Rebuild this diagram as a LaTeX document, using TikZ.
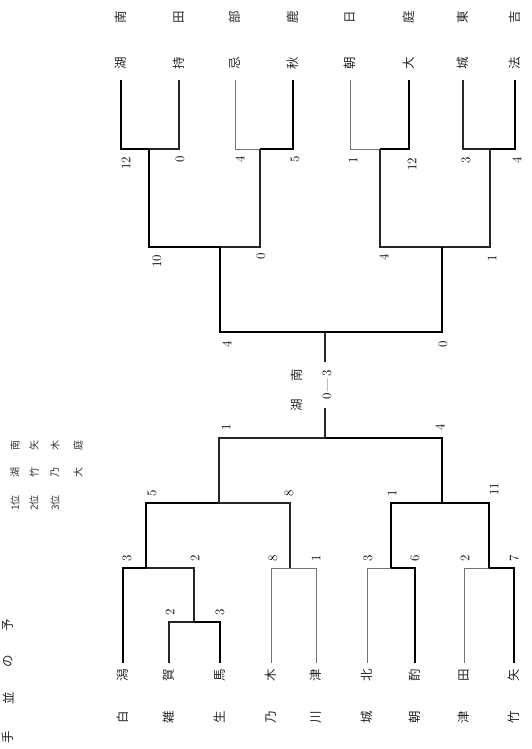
\documentclass[tikz,border=0pt]{standalone}
\usepackage{fontspec}
\newfontfamily\jp{Noto Sans CJK JP}
\begin{document}
\begin{tikzpicture}[x=1pt,y=-1pt,line join=miter,
  wl/.style={line width=1.8pt, black},
  ml/.style={line width=1.1pt, black!85},
  tl/.style={line width=0.8pt, black!55},
  nm/.style={rotate=90, font=\jp\fontsize{12.5}{12.5}\selectfont, text=black!85, inner sep=0pt},
  rk/.style={rotate=90, font=\jp\fontsize{10}{10}\selectfont, text=black!80, inner sep=0pt},
  sc/.style={rotate=90, font=\fontsize{13}{13}\selectfont, inner sep=0pt}]
\useasboundingbox (0,0) rectangle (531,749);

% ---------- top half ----------
\foreach \i/\x in {1/121,2/179,3/235,4/293,5/350,6/409,7/463,8/515}{\coordinate (t\i) at (\x,80);}
\coordinate (p1) at (149,149);
\coordinate (p2) at (260,149);
\coordinate (p3) at (380,149);
\coordinate (p4) at (490,149);
\coordinate (q1) at (220,247);
\coordinate (q2) at (442,247);
\coordinate (r) at (325,332);
\coordinate (s) at (325,438);

\draw[wl] (t1) |- (p1);
\draw[ml] (t2) |- (p1);
\draw[tl] (t3) |- (p2);
\draw[wl] (t4) |- (p2);
\draw[tl] (t5) |- (p3);
\draw[wl] (t6) |- (p3);
\draw[ml] (t7) |- (p4);
\draw[wl] (t8) |- (p4);
\draw[wl] (p1) |- (q1);
\draw[ml] (p2) |- (q1);
\draw[ml] (p3) |- (q2);
\draw[ml] (p4) |- (q2);
\draw[wl] (q1) |- (r);
\draw[wl] (q2) |- (r);
\draw[ml] (r) -- (s);

% top names
\node[nm] (ta1) at (121,17) {南}; \node[nm] (tb1) at (121,63) {湖};
\node[nm] (ta2) at (179,17) {田}; \node[nm] (tb2) at (179,63) {持};
\node[nm] (ta3) at (235,17) {部}; \node[nm] (tb3) at (235,63) {忌};
\node[nm] (ta4) at (293,17) {鹿}; \node[nm] (tb4) at (293,63) {秋};
\node[nm] (ta5) at (350,17) {日}; \node[nm] (tb5) at (350,63) {朝};
\node[nm] (ta6) at (409,17) {庭}; \node[nm] (tb6) at (409,63) {大};
\node[nm] (ta7) at (463,17) {東}; \node[nm] (tb7) at (463,63) {城};
\node[nm] (ta8) at (515,17) {吉}; \node[nm] (tb8) at (515,63) {法};

% top scores
\node[sc] (s1) at (126,163) {12};
\node[sc] (s2) at (180,159) {0};
\node[sc] (s3) at (240,159) {4};
\node[sc] (s4) at (295,159) {5};
\node[sc] (s5) at (353,160) {1};
\node[sc] (s6) at (412,164) {12};
\node[sc] (s7) at (466,160) {3};
\node[sc] (s8) at (517,160) {4};
\node[sc] (s9) at (157,261) {10};
\node[sc] (s10) at (261,256) {0};
\node[sc] (s11) at (384,257) {4};
\node[sc] (s12) at (492,258) {1};
\node[sc] (s13) at (227,344) {4};
\node[sc] (s14) at (443,344) {0};

% final
\node[sc, fill=white, inner xsep=8pt, inner ysep=1pt] (fin) at (327,385) {0\,---\,3};
\node[nm] (fa) at (297,375) {南};
\node[nm] (fb) at (297,405) {湖};

% ---------- bottom half ----------
\foreach \i/\x in {1/123,2/169,3/220,4/271,5/316,6/367,7/415,8/464,9/514}{\coordinate (l\i) at (\x,663);}
\coordinate (c) at (194,622);
\coordinate (b1) at (146,568);
\coordinate (b2) at (290,568);
\coordinate (b3) at (391,568);
\coordinate (b4) at (489,568);
\coordinate (a1) at (219,503);
\coordinate (a2) at (442,503);

\draw[ml] (l2) |- (c);
\draw[wl] (l3) |- (c);
\draw[wl] (l1) |- (b1);
\draw[ml] (c) |- (b1);
\draw[tl] (l4) |- (b2);
\draw[tl] (l5) |- (b2);
\draw[tl] (l6) |- (b3);
\draw[wl] (l7) |- (b3);
\draw[tl] (l8) |- (b4);
\draw[wl] (l9) |- (b4);
\draw[wl] (b1) |- (a1);
\draw[ml] (b2) |- (a1);
\draw[wl] (b3) |- (a2);
\draw[wl] (b4) |- (a2);
\draw[ml] (a1) |- (s);
\draw[wl] (a2) |- (s);

% bottom scores
\node[sc] (u1) at (226,427) {1};
\node[sc] (u2) at (440,427) {4};
\node[sc] (u3) at (152,493) {5};
\node[sc] (u4) at (289,493) {8};
\node[sc] (u5) at (392,493) {1};
\node[sc] (u6) at (494,489) {11};
\node[sc] (u7) at (127,558) {3};
\node[sc] (u8) at (195,558) {2};
\node[sc] (u9) at (273,558) {8};
\node[sc] (u10) at (316,558) {1};
\node[sc] (u11) at (368,558) {3};
\node[sc] (u12) at (415,558) {6};
\node[sc] (u13) at (465,558) {2};
\node[sc] (u14) at (514,558) {7};
\node[sc] (u15) at (170,612) {2};
\node[sc] (u16) at (220,612) {3};

% bottom names
\node[nm] (ba1) at (123,675) {潟}; \node[nm] (bb1) at (123,717) {白};
\node[nm] (ba2) at (169,675) {賀}; \node[nm] (bb2) at (169,717) {雑};
\node[nm] (ba3) at (220,675) {馬}; \node[nm] (bb3) at (220,717) {生};
\node[nm] (ba4) at (271,675) {木}; \node[nm] (bb4) at (271,717) {乃};
\node[nm] (ba5) at (316,675) {津}; \node[nm] (bb5) at (316,717) {川};
\node[nm] (ba6) at (367,675) {北}; \node[nm] (bb6) at (367,717) {城};
\node[nm] (ba7) at (415,675) {酌}; \node[nm] (bb7) at (415,717) {朝};
\node[nm] (ba8) at (464,675) {田}; \node[nm] (bb8) at (464,717) {津};
\node[nm] (ba9) at (514,675) {矢}; \node[nm] (bb9) at (514,717) {竹};

% ranking
\node[rk] (k1a) at (15,445) {南}; \node[rk] (k1b) at (15,472) {湖}; \node[rk] (k1c) at (15,503) {1位};
\node[rk] (k2a) at (34,445) {矢}; \node[rk] (k2b) at (34,472) {竹}; \node[rk] (k2c) at (34,503) {2位};
\node[rk] (k3a) at (55,445) {木}; \node[rk] (k3b) at (55,472) {乃}; \node[rk] (k3c) at (55,503) {3位};
\node[rk] (k4a) at (78,445) {庭}; \node[rk] (k4b) at (78,472) {大};

% left edge title
\node[nm] (h1) at (8,625) {予};
\node[nm] (h2) at (8,661) {の};
\node[nm] (h3) at (8,698) {並};
\node[nm] (h4) at (8,737) {手};
\end{tikzpicture}
\end{document}
